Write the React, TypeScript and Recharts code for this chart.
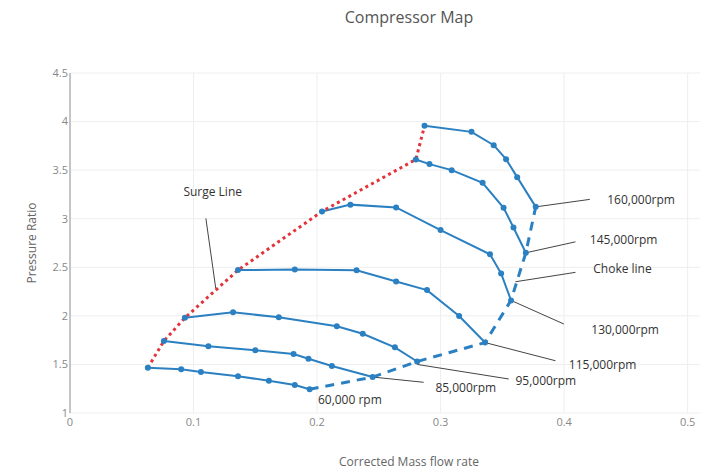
import { ComposedChart, Line, XAxis, YAxis, CartesianGrid, ReferenceLine, ReferenceDot } from 'recharts';

// corrected mass flow (x) and pressure ratio (y) along each speed line
const flow60k = [0.063, 0.09, 0.106, 0.136, 0.161, 0.182, 0.194];
const pr60k = [1.466, 1.45, 1.422, 1.378, 1.332, 1.288, 1.244];

const flow85k = [0.076, 0.112, 0.15, 0.181, 0.193, 0.212, 0.245];
const pr85k = [1.741, 1.686, 1.645, 1.607, 1.559, 1.484, 1.37];

const flow95k = [0.093, 0.132, 0.169, 0.216, 0.237, 0.263, 0.281];
const pr95k = [1.98, 2.036, 1.985, 1.892, 1.816, 1.676, 1.53];

const flow115k = [0.136, 0.182, 0.232, 0.264, 0.289, 0.315, 0.336];
const pr115k = [2.471, 2.478, 2.469, 2.353, 2.265, 1.998, 1.725];

const flow130k = [0.204, 0.227, 0.264, 0.3, 0.34, 0.349, 0.357];
const pr130k = [3.075, 3.145, 3.116, 2.883, 2.633, 2.437, 2.159];

const flow145k = [0.28, 0.291, 0.309, 0.334, 0.351, 0.359, 0.369];
const pr145k = [3.61, 3.562, 3.5, 3.369, 3.112, 2.91, 2.649];

const flow160k = [0.287, 0.325, 0.343, 0.353, 0.362, 0.377];
const pr160k = [3.956, 3.894, 3.757, 3.613, 3.428, 3.122];

const xTicks = [0, 0.1, 0.2, 0.3, 0.4, 0.5];
const yTicks = [1, 1.5, 2, 2.5, 3, 3.5, 4, 4.5];

// annotation pointers: tip on the curve, tail near the text
const annotations = [
  { text: 'Surge Line', tip: [0.118, 2.283], tail: [0.11, 3.003], at: [0.0918, 3.284] },
  { text: '160,000rpm', tip: [0.377, 3.122], tail: [0.4208, 3.199], at: [0.4349, 3.199] },
  { text: '145,000rpm', tip: [0.369, 2.649], tail: [0.4092, 2.762], at: [0.4208, 2.787] },
  { text: 'Choke line', tip: [0.3606, 2.351], tail: [0.4092, 2.448], at: [0.4236, 2.489] },
  { text: '130,000rpm', tip: [0.357, 2.159], tail: [0.3998, 1.916], at: [0.422, 1.864] },
  { text: '115,000rpm', tip: [0.336, 1.725], tail: [0.393, 1.538], at: [0.4038, 1.504] },
  { text: '95,000rpm', tip: [0.281, 1.5], tail: [0.3552, 1.35], at: [0.3606, 1.332] },
  { text: '85,000rpm', tip: [0.245, 1.37], tail: [0.2863, 1.316], at: [0.2958, 1.264] },
  { text: '60,000 rpm', tip: null, tail: null, at: [0.2007, 1.134] },
];

const toPoints = (xs: number[], ys: number[]) => xs.map((x, i) => ({ x, y: ys[i] }));

const speedLines = [
  toPoints(flow60k, pr60k),
  toPoints(flow85k, pr85k),
  toPoints(flow95k, pr95k),
  toPoints(flow115k, pr115k),
  toPoints(flow130k, pr130k),
  toPoints(flow145k, pr145k),
  toPoints(flow160k, pr160k),
];

const surgeLine = speedLines.map((l) => l[0]);
const chokeLine = speedLines.map((l) => l[l.length - 1]);

const BLUE = '#2b80c2';
const RED = '#e3333a';
const font = '"Open Sans", sans-serif';

export default function App() {
  return (
    <div style={{ position: 'absolute', left: 0, top: 0, width: 707, height: 474, background: '#fff', fontFamily: font }}>
      <ComposedChart width={707} height={474} margin={{ top: 73, right: 7, bottom: 31, left: 10 }}>
        <CartesianGrid stroke="#eeeeee" verticalValues={xTicks} horizontalValues={yTicks} />
        <XAxis
          type="number"
          dataKey="x"
          domain={[0, 0.51]}
          ticks={xTicks}
          height={30}
          axisLine={false}
          tickLine={false}
          tickSize={3}
          tickMargin={2}
          tick={{ fill: '#888', fontSize: 11, fontFamily: font }}
          allowDataOverflow
        />
        <YAxis
          type="number"
          dataKey="y"
          domain={[1, 4.5]}
          ticks={yTicks}
          width={60}
          axisLine={{ stroke: '#b5b5b5', strokeWidth: 1.5 }}
          tickLine={false}
          tickSize={2}
          tickMargin={0}
          tick={{ fill: '#888', fontSize: 11, fontFamily: font }}
          allowDataOverflow
        />
        {annotations
          .filter((a) => a.tip)
          .map((a) => (
            <ReferenceLine
              key={'p' + a.text}
              segment={[
                { x: a.tip![0], y: a.tip![1] },
                { x: a.tail![0], y: a.tail![1] },
              ]}
              stroke="#444"
              strokeWidth={1}
            />
          ))}
        {speedLines.map((data, i) => (
          <Line
            key={i}
            data={data}
            dataKey="y"
            type="linear"
            stroke={BLUE}
            strokeWidth={2}
            dot={{ r: 3, fill: BLUE, stroke: BLUE, strokeWidth: 0 }}
            activeDot={false}
            isAnimationActive={false}
          />
        ))}
        <Line
          data={chokeLine}
          dataKey="y"
          type="linear"
          stroke={BLUE}
          strokeWidth={3}
          strokeDasharray="9 7"
          dot={false}
          activeDot={false}
          isAnimationActive={false}
        />
        <Line
          data={surgeLine}
          dataKey="y"
          type="linear"
          stroke={RED}
          strokeWidth={3}
          strokeDasharray="3 3.5"
          dot={false}
          activeDot={false}
          isAnimationActive={false}
        />
        {annotations.map((a) => (
          <ReferenceDot
            key={'t' + a.text}
            x={a.at[0]}
            y={a.at[1]}
            r={0}
            stroke="none"
            fill="none"
            label={(props: any) => (
              <text
                x={props.viewBox.x}
                y={props.viewBox.y}
                dominantBaseline="central"
                textAnchor="start"
                fill="#333"
                fontSize={12}
                fontFamily={font}
              >
                {a.text}
              </text>
            )}
          />
        ))}
      </ComposedChart>
      <div style={{ position: 'absolute', left: 0, width: 818, top: 6, textAlign: 'center', fontSize: 16, color: '#555' }}>
        Compressor Map
      </div>
      <div style={{ position: 'absolute', left: 0, width: 818, top: 453, textAlign: 'center', fontSize: 12, color: '#666' }}>
        Corrected Mass flow rate
      </div>
      <div
        style={{
          position: 'absolute',
          left: 31,
          top: 243,
          fontSize: 12,
          color: '#666',
          whiteSpace: 'nowrap',
          transform: 'translate(-50%, -50%) rotate(-90deg)',
        }}
      >
        Pressure Ratio
      </div>
    </div>
  );
}
